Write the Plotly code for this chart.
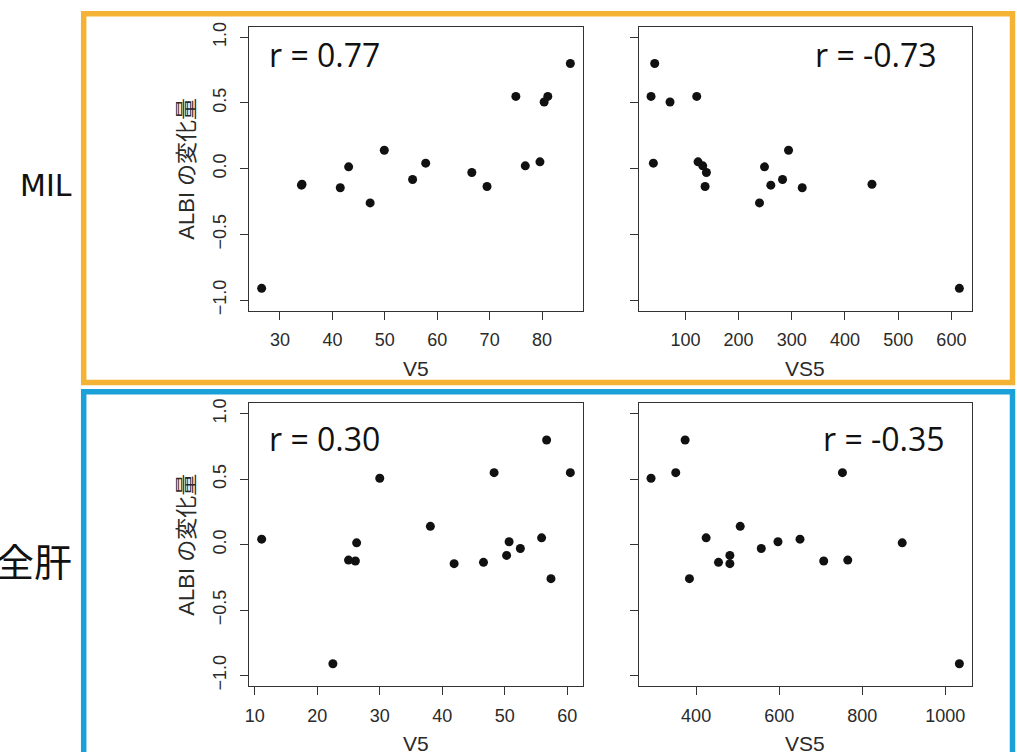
import plotly.graph_objects as go

W, H = 1017, 752

# ---- data (one entry per patient) ----
albi_change = [-0.91, -0.26, -0.145, -0.135, -0.125, -0.118, -0.082, -0.029, 0.014,
               0.022, 0.042, 0.052, 0.14, 0.507, 0.55, 0.55, 0.80]
mil_v5 = [26.5, 47.2, 41.5, 69.5, 34.1, 34.2, 55.3, 66.6, 43.1,
          76.8, 57.8, 79.6, 49.9, 80.4, 75.0, 81.1, 85.4]
mil_vs5 = [615, 239.3, 319.6, 137, 260.6, 450.7, 282.6, 139.5, 248.7,
           132.6, 39.8, 123.8, 293.9, 71.1, 35.4, 121.3, 42.3]
whole_v5 = [22.5, 57.4, 41.9, 46.6, 26.1, 25.0, 50.3, 52.5, 26.3,
            50.7, 11.1, 55.9, 38.1, 30.0, 48.3, 60.5, 56.7]
whole_vs5 = [1034, 383.9, 481.3, 453.9, 707.3, 765.2, 481.3, 556.9, 896.4,
             597.1, 650.2, 424.1, 506.2, 291.4, 350.9, 752.4, 373.5]

r_labels = ["r = 0.77", "r = -0.73", "r = 0.30", "r = -0.35"]
x_titles = ["V5", "VS5", "V5", "VS5"]
y_title = "ALBI の変化量"
row_labels = ["MIL", "全肝"]
x_dticks = [10, 100, 10, 200]
y_ticks = [-1.0, -0.5, 0.0, 0.5, 1.0]

panels = [mil_v5, mil_vs5, whole_v5, whole_vs5]

# ---- layout geometry (pixels) ----
px_x = [(249.3, 582.7), (638.7, 971.7), (249.3, 582.7), (638.7, 971.7)]
px_y = [(26.7, 310.7), (26.7, 310.7), (403.3, 686.0), (403.3, 686.0)]

def fx(p):
    return p / W

def fy(p):
    return 1 - p / H

def r_range(vals):
    lo, hi = min(vals), max(vals)
    d = (hi - lo) * 0.04
    return [lo - d, hi + d]

fig = go.Figure()
axcol = "#333333"
tickfont = dict(family="Liberation Sans, Arial, sans-serif", size=18, color="#2a2a2a")

for i, xs in enumerate(panels):
    n = "" if i == 0 else str(i + 1)
    fig.add_trace(go.Scatter(
        x=xs, y=albi_change, mode="markers",
        marker=dict(size=9, color="#111111"),
        xaxis="x" + n, yaxis="y" + n, showlegend=False, hoverinfo="x+y"))
    xa = dict(domain=[fx(px_x[i][0]), fx(px_x[i][1])], range=r_range(xs),
              anchor="y" + n, showline=True, mirror=True, linecolor=axcol, linewidth=1.3,
              ticks="outside", ticklen=8, tickwidth=1.3, tickcolor=axcol,
              dtick=x_dticks[i], tick0=0, showgrid=False, zeroline=False,
              tickfont=tickfont, ticklabelstandoff=5, automargin=False)
    ya = dict(domain=[fy(px_y[i][1]), fy(px_y[i][0])], range=[-1.08, 1.08],
              anchor="x" + n, showline=True, mirror=True, linecolor=axcol, linewidth=1.3,
              ticks="outside", ticklen=8, tickwidth=1.3, tickcolor=axcol,
              tickvals=y_ticks, tickformat=".1f", showgrid=False, zeroline=False,
              tickfont=tickfont, tickangle=-90, showticklabels=(i % 2 == 0),
              ticklabelstandoff=7, automargin=False)
    fig.layout["xaxis" + n] = xa
    fig.layout["yaxis" + n] = ya

ann = []
rfont = dict(family="Open Sans, Noto Sans, sans-serif", size=32, color="#111111")
# r labels
r_pos = [(267, 55, "left"), (939, 55, "right"), (267, 438, "left"), (947, 438, "right")]
for (x, y, anc), t in zip(r_pos, r_labels):
    ann.append(dict(x=fx(x), y=fy(y), xref="paper", yref="paper", text=t,
                    showarrow=False, xanchor=anc, yanchor="middle", font=rfont))
# x titles
tfont = dict(family="Liberation Sans, Arial, Noto Sans CJK JP, sans-serif", size=21, color="#2a2a2a")
for i, t in enumerate(x_titles):
    cx = (px_x[i][0] + px_x[i][1]) / 2
    cy = px_y[i][1] + 57.5
    ann.append(dict(x=fx(cx), y=fy(cy), xref="paper", yref="paper", text=t,
                    showarrow=False, xanchor="center", yanchor="middle", font=tfont))
# y titles
for i in (0, 2):
    cy = (px_y[i][0] + px_y[i][1]) / 2
    ann.append(dict(x=fx(187), y=fy(cy), xref="paper", yref="paper", text=y_title,
                    textangle=-90, showarrow=False, xanchor="center", yanchor="middle",
                    font=dict(family="Liberation Sans, Arial, Noto Sans CJK JP, sans-serif",
                              size=22, color="#2a2a2a")))
# row labels
ann.append(dict(x=fx(74), y=fy(185), xref="paper", yref="paper", text=row_labels[0],
                showarrow=False, xanchor="right", yanchor="middle",
                font=dict(family="DejaVu Sans, Noto Sans, sans-serif", size=30, color="#111111")))
ann.append(dict(x=fx(74), y=fy(559), xref="paper", yref="paper", text=row_labels[1],
                showarrow=False, xanchor="right", yanchor="middle",
                font=dict(family="Noto Sans CJK JP, sans-serif", size=38, color="#111111")))

shapes = [
    dict(type="rect", xref="paper", yref="paper", x0=fx(83.7), x1=fx(1012.5),
         y0=fy(382.5), y1=fy(13.8), line=dict(color="#F5B335", width=5.5)),
    dict(type="rect", xref="paper", yref="paper", x0=fx(83.7), x1=fx(1012.5),
         y0=fy(800), y1=fy(391.7), line=dict(color="#1BA1DA", width=5.5)),
]

fig.update_layout(width=W, height=H, margin=dict(l=0, r=0, t=0, b=0),
                  paper_bgcolor="white", plot_bgcolor="white",
                  annotations=ann, shapes=shapes)

fig.write_html("out.html")
